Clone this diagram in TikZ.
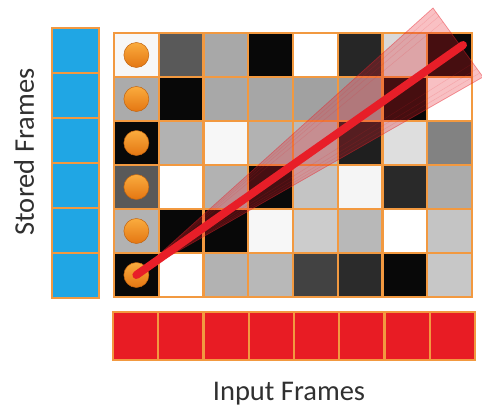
\documentclass[tikz,border=0pt]{standalone}
\usepackage{fontspec}
\setmainfont{Carlito}
\definecolor{FrameEdge}{RGB}{242,153,64}
\definecolor{StoredBlue}{RGB}{32,166,228}
\definecolor{InputRed}{RGB}{232,28,36}
\definecolor{DotLight}{RGB}{250,172,62}
\definecolor{DotDark}{RGB}{228,118,18}
\definecolor{LabelGray}{RGB}{48,48,48}
\definecolor{PathRed}{RGB}{232,30,40}
\usetikzlibrary{positioning,calc}

\begin{document}
\begin{tikzpicture}[x=1pt,y=-1pt,
  cell/.style={draw=FrameEdge,line width=2.4pt,minimum width=44.75pt,minimum height=44pt,inner sep=0pt},
  stored/.style={draw=FrameEdge,line width=2.4pt,fill=StoredBlue,minimum width=47pt,minimum height=45pt,inner sep=0pt},
  input/.style={draw=FrameEdge,line width=2.4pt,fill=InputRed,minimum width=45.25pt,minimum height=48pt,inner sep=0pt},
  dot/.style={circle,minimum size=25pt,inner sep=0pt,draw=DotDark!85!black,line width=0.5pt,top color=DotLight,bottom color=DotDark},
  axislabel/.style={text=LabelGray,font=\fontsize{28.5}{33}\selectfont,inner sep=0pt},
  cone/.style={fill=PathRed,fill opacity=0.28,draw=PathRed,draw opacity=0.45,line width=0.7pt},
  fanline/.style={draw=PathRed,opacity=0.16,line width=0.5pt},
  pathline/.style={draw=PathRed,line width=8pt,line cap=round}]
  \useasboundingbox (0,0) rectangle (482,408);

  % match grid, grey level of each cell (percent black)
  \foreach \row [count=\r] in {{3,65,34,97,0,85,15,97},{33,97,34,35,37,39,97,0},
      {97,30,3,30,27,88,13,49},{65,0,30,96,23,4,84,33},
      {30,97,97,3,20,28,0,23},{97,0,30,28,74,83,97,22}} {
    \foreach \k [count=\c] in \row {
      \node[cell,fill=black!\k] (g-\r-\c) at ({114+44.75*(\c-0.5)},{33+44*(\r-0.5)}) {};
    }
  }
  \foreach \r in {1,...,6}
    \node[dot] (dot\r) at (g-\r-1) {};

  % stored frames (left) and input frames (bottom)
  \foreach \r in {1,...,6}
    \node[stored] (s\r) at (75.5,{28+45*(\r-0.5)}) {};
  \foreach \c in {1,...,8}
    \node[input] (in\c) at ({113+45.25*(\c-0.5)},336) {};

  \node[axislabel,rotate=90] (storedlabel) at (24,152) {Stored Frames};
  \node[axislabel,anchor=base] (inputlabel) at (289,400) {Input Frames};

  % search cone and best path
  \coordinate (cone-a) at (433,8);
  \coordinate (cone-b) at (483,77);
  \coordinate (tip) at (463,45);
  \filldraw[cone] (dot6.center) -- (cone-a) -- (cone-b) -- cycle;
  \foreach \t in {0.06,0.12,0.2,0.8,0.88,0.94}
    \draw[fanline] (dot6.center) -- ($(cone-a)!\t!(cone-b)$);
  \draw[pathline] (dot6.center) -- (tip);
\end{tikzpicture}
\end{document}
